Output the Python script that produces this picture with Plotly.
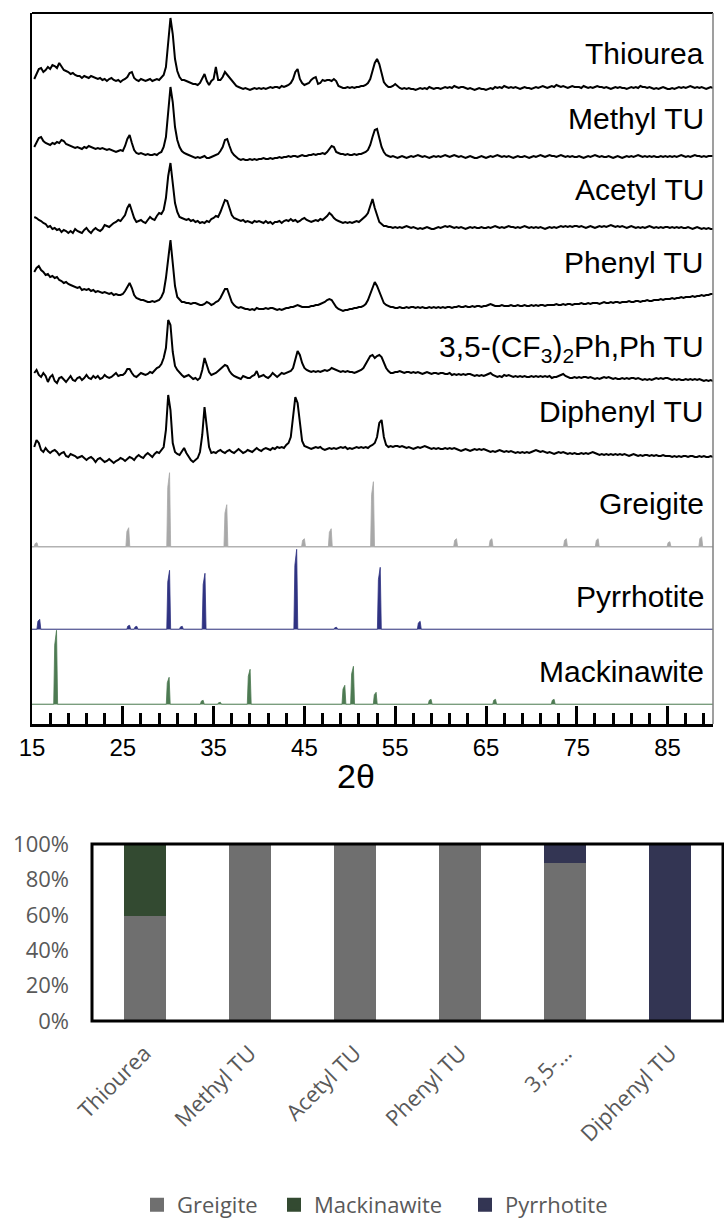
import plotly.graph_objects as go

W, H = 724, 1226

# ---------------- XRD patterns -------------
# 2θ sampling of the measured scans: 15.25° ... 90.00° in 0.25° steps
two_theta = [15.25 + 0.25 * i for i in range(300)]

# intensity above each pattern's own baseline (one row = 5° of 2θ)
thiourea = [
    10, 16, 20, 21, 17, 19, 22, 20, 24, 23, 21, 26, 23, 19, 18, 17, 15, 16, 14, 13,
    13, 11, 13, 12, 11, 13, 12, 11, 10, 11, 9, 10, 8, 10, 11, 9, 8, 9, 7, 9,
    10, 12, 16, 17, 11, 9, 8, 10, 9, 8, 9, 10, 8, 9, 10, 9, 12, 14, 22, 45,
    71, 55, 30, 18, 12, 9, 9, 8, 7, 6, 5, 5, 4, 6, 10, 15, 8, 4, 8, 10,
    22, 9, 9, 12, 17, 14, 11, 8, 6, 3, 2, 1, 0, 1, 0, -1, 0, 1, 0, 1,
    0, 1, 0, 1, 2, 1, 2, 2, 1, 3, 2, 3, 4, 6, 10, 17, 20, 10, 6, 4,
    5, 6, 9, 11, 12, 5, 6, 9, 8, 9, 9, 8, 10, 8, 3, 2, 1, 1, 2, 1,
    2, 1, 2, 2, 3, 3, 4, 6, 10, 18, 26, 30, 25, 16, 7, 4, 2, 2, 3, 5,
    3, 1, 0, 1, 0, 1, 0, 0, -1, 0, 1, 0, 1, 0, 2, 1, 0, 1, 1, 0,
    1, 2, 1, 2, 1, 3, 2, 1, 2, 2, 1, 0, 1, 0, -1, 0, 1, 0, 0, -1,
    0, 1, 0, 2, 1, 2, 1, 3, 2, 1, 2, 1, 2, 1, 0, 1, 2, 1, 1, 0,
    1, 2, 1, 2, 3, 2, 1, 2, 3, 2, 4, 3, 2, 3, 2, 1, 2, 3, 2, 2,
    2, 1, 3, 2, 1, 2, 1, 2, 3, 2, 2, 1, 2, 1, 0, 1, 2, 1, 2, 1,
    1, 0, 1, 2, 1, 2, 1, 3, 2, 2, 1, 2, 1, 0, 1, 0, 1, 2, 1, 0,
    0, 1, 0, 1, 2, 1, 2, 1, 2, 3, 2, 1, 2, 1, 2, 1, 0, 1, 2, 1,
]

methyl_tu = [
    10, 14, 19, 20, 16, 14, 13, 12, 14, 13, 15, 14, 17, 16, 13, 12, 11, 10, 9, 10,
    9, 8, 10, 9, 11, 10, 9, 8, 9, 8, 9, 8, 7, 8, 7, 6, 5, 6, 7, 6,
    11, 18, 22, 14, 7, 4, 3, 4, 3, 2, 3, 2, 2, 3, 2, 4, 5, 10, 20, 47,
    70, 55, 30, 17, 10, 6, 4, 3, 2, 1, 0, -1, 0, -1, 0, 1, -1, -1, 0, 1,
    2, 3, 6, 10, 17, 18, 11, 5, 2, 0, -2, -3, -2, -3, -3, -2, -3, -2, -3, -2,
    -2, -1, -2, -2, -1, -2, -1, -1, 0, -1, 0, 0, 1, 0, 1, 1, 0, 1, 2, 1,
    1, 2, 2, 3, 2, 3, 3, 4, 3, 5, 8, 11, 10, 5, 4, 3, 3, 2, 3, 2,
    2, 3, 2, 3, 3, 4, 5, 7, 12, 20, 27, 28, 19, 10, 5, 2, 1, 0, 1, 0,
    -1, 0, 1, 0, -1, 0, 1, 0, 1, 2, 1, 0, 1, 0, -1, 0, 1, 0, 1, 0,
    1, 2, 1, 0, 1, 2, 1, 0, 1, 0, -1, 0, 1, 0, -1, -1, 0, 1, 0, -1,
    0, 1, 0, 1, 2, 1, 0, 1, 0, 1, 0, -1, 0, 1, 0, 0, 1, 0, -1, 0,
    1, 0, 1, 2, 1, 0, 1, 2, 1, 1, 0, 1, 2, 1, 0, 1, 0, 1, 0, 0,
    1, 0, -1, 0, 1, 0, 1, 2, 1, 0, 1, 0, 0, 1, 0, -1, 0, 1, 0, -1,
    0, 1, 0, 1, 0, 1, 2, 1, 0, 1, 0, 1, 0, 1, 0, 0, 1, 0, 1, 0,
    1, 0, 1, 0, 1, 2, 1, 0, 1, 0, 1, 2, 1, 1, 0, 1, 0, 1, 1, 1,
]

acetyl_tu = [
    11, 10, 8, 7, 5, 4, 1, 2, -1, 0, -2, -1, -4, -2, -3, -5, -3, -5, -1, -3,
    -4, -5, -2, 0, -3, -5, -2, 0, -2, -3, -1, 3, 2, 1, 3, 5, 6, 8, 7, 10,
    13, 20, 24, 17, 10, 6, 7, 8, 6, 5, 8, 11, 9, 8, 12, 15, 14, 18, 30, 52,
    65, 45, 25, 16, 11, 10, 9, 8, 9, 7, 8, 6, 7, 5, 6, 5, 7, 6, 9, 10,
    12, 11, 16, 22, 28, 27, 19, 13, 10, 9, 8, 7, 8, 6, 7, 6, 5, 7, 6, 7,
    6, 5, 7, 5, 6, 4, 6, 6, 7, 5, 7, 8, 7, 9, 7, 8, 6, 7, 9, 10,
    8, 7, 6, 7, 8, 7, 9, 8, 10, 12, 15, 13, 10, 8, 7, 6, 5, 6, 5, 6,
    5, 6, 7, 6, 8, 10, 12, 15, 22, 29, 20, 12, 6, 4, 2, 2, 1, 1, 0, 1,
    0, 1, 0, 1, 2, 1, 0, 1, 0, -1, 0, -1, 0, 1, 0, -1, -1, 0, 1, 0,
    1, 2, 1, 2, 1, 0, 1, 0, 1, 0, -1, 0, 1, 0, 1, 0, 0, 1, 0, 0,
    1, 0, 1, 2, 1, 0, 1, 0, 1, 2, 1, 1, 0, 1, 0, 1, 2, 1, 0, 1,
    0, 1, 0, 1, 0, -1, 0, 1, 0, 1, 0, 1, 2, 1, 2, 1, 2, 1, 2, 2,
    1, 2, 1, 0, 1, 2, 1, 0, 1, 2, 1, 2, 1, 2, 3, 2, 1, 2, 1, 2,
    1, 0, 1, 2, 1, 0, 1, 0, 1, 0, 1, 2, 1, 0, 1, 0, 1, 0, 1, 1,
    0, 1, 0, 1, 0, 1, 0, 0, 1, 0, -1, 0, 1, 0, -1, 0, -1, 0, -1, -1,
]

phenyl_tu = [
    36, 40, 42, 38, 36, 33, 34, 31, 32, 30, 31, 28, 27, 25, 26, 24, 23, 22, 21, 20,
    21, 18, 19, 18, 19, 17, 18, 16, 17, 16, 15, 16, 15, 14, 15, 13, 14, 13, 13, 14,
    17, 21, 25, 20, 13, 10, 9, 8, 8, 7, 6, 6, 7, 6, 7, 8, 11, 16, 30, 52,
    68, 45, 22, 11, 8, 6, 6, 5, 5, 4, 5, 5, 4, 3, 3, 4, 6, 5, 3, 4,
    6, 7, 10, 15, 19, 19, 12, 6, 3, 1, 0, 1, 0, -1, -1, -2, -1, -2, 0, -1,
    -1, -1, 0, -1, 0, 0, -1, -2, -1, -2, -1, 0, 0, 1, 1, 2, 3, 2, 1, 1,
    1, 1, 2, 2, 3, 3, 4, 5, 6, 8, 9, 8, 4, 1, -1, -2, -3, -2, -2, -1,
    -1, 0, 0, 1, 1, 2, 4, 8, 14, 21, 26, 22, 16, 9, 5, 3, 2, 1, 1, 0,
    0, 1, 0, 0, 1, 0, 1, 1, 0, 1, 0, 1, 0, 0, 1, 0, 1, 0, 1, 0,
    1, 0, 1, 1, 0, 1, 1, 2, 1, 1, 2, 1, 1, 2, 1, 2, 2, 1, 2, 2,
    3, 4, 3, 2, 2, 2, 3, 2, 2, 2, 3, 2, 2, 3, 2, 2, 3, 2, 2, 3,
    2, 3, 2, 3, 3, 2, 3, 3, 3, 3, 4, 3, 3, 4, 3, 4, 4, 3, 4, 4,
    4, 5, 4, 4, 5, 4, 5, 5, 5, 4, 5, 6, 5, 5, 6, 5, 6, 6, 5, 6,
    6, 6, 7, 6, 6, 7, 7, 6, 7, 7, 8, 7, 7, 8, 8, 8, 9, 8, 9, 9,
    9, 10, 9, 10, 10, 11, 10, 11, 11, 11, 12, 11, 12, 12, 13, 12, 13, 13, 14, 14,
]

cf3_ph_tu = [
    7, 10, 5, 3, 7, 4, -2, 3, 5, -1, -3, 2, 3, 0, -2, 1, 4, 0, -1, 2,
    3, 0, 2, 5, 2, 1, 4, 2, 4, 1, 2, 5, 3, 2, 3, 5, 7, 4, 5, 5,
    7, 11, 11, 7, 4, 3, 5, 7, 6, 5, 6, 8, 7, 10, 12, 13, 16, 22, 32, 60,
    55, 28, 14, 10, 7, 5, 3, 4, 5, 3, 1, 2, 0, 2, 10, 22, 16, 8, 5, 6,
    7, 9, 11, 13, 15, 14, 9, 6, 4, 3, 2, 1, 4, 3, 2, 2, 4, 5, 9, 3,
    4, 5, 3, 2, 4, 7, 5, 3, 5, 7, 6, 7, 8, 9, 12, 22, 29, 25, 17, 12,
    10, 9, 8, 9, 8, 9, 8, 9, 10, 9, 10, 12, 11, 10, 9, 8, 9, 8, 9, 8,
    8, 7, 8, 9, 10, 12, 16, 20, 24, 25, 22, 24, 25, 23, 17, 12, 9, 7, 7, 8,
    8, 9, 8, 7, 8, 8, 7, 8, 7, 8, 7, 6, 7, 8, 7, 6, 7, 7, 6, 7,
    7, 6, 6, 7, 5, 6, 5, 6, 5, 6, 5, 6, 6, 5, 4, 5, 4, 5, 4, 5,
    6, 7, 5, 4, 3, 4, 3, 5, 4, 5, 4, 3, 4, 3, 4, 3, 4, 3, 3, 4,
    3, 4, 3, 4, 3, 4, 3, 4, 2, 3, 3, 4, 5, 6, 4, 3, 2, 2, 3, 2,
    3, 2, 3, 3, 2, 3, 2, 1, 2, 1, 2, 3, 2, 3, 2, 1, 2, 1, 1, 2,
    1, 2, 1, 2, 2, 1, 2, 1, 0, 1, 0, 1, 0, 1, 2, 1, 2, 1, 2, 2,
    1, 0, 1, 0, 1, 0, 0, 1, 0, 1, 0, 1, 0, 1, 0, -1, 0, -1, 0, -1,
]

diphenyl_tu = [
    8, 15, 12, 5, 3, 7, 4, 2, 4, 5, 3, 0, 2, 3, -1, -2, 1, 0, -1, -3,
    -2, -1, -3, -5, -3, -2, -4, -7, -4, -3, -5, -7, -6, -4, -6, -8, -6, -5, -3, -4,
    -6, -4, -2, -3, -5, -2, 0, -2, -3, 0, 2, 0, -2, 1, 3, 2, 5, 8, 25, 60,
    45, 12, 3, 1, 0, 3, 7, 2, -2, -5, -7, -5, -3, 3, 20, 48, 30, 8, 2, 3,
    2, 4, 5, 3, 2, 4, 5, 3, 2, 4, 6, 4, 2, 3, 5, 4, 3, 5, 7, 5,
    4, 6, 7, 6, 5, 7, 6, 8, 7, 8, 7, 10, 12, 18, 38, 58, 52, 30, 14, 9,
    8, 7, 6, 7, 8, 7, 8, 6, 5, 6, 7, 6, 7, 6, 7, 8, 7, 8, 6, 7,
    6, 7, 8, 7, 8, 7, 8, 7, 9, 10, 12, 18, 32, 35, 18, 10, 8, 9, 8, 9,
    9, 8, 9, 8, 7, 8, 7, 6, 7, 8, 7, 8, 9, 8, 7, 6, 7, 6, 7, 6,
    6, 7, 6, 7, 6, 7, 6, 5, 4, 5, 6, 5, 4, 5, 6, 5, 6, 5, 6, 5,
    4, 3, 4, 3, 4, 5, 4, 3, 4, 3, 4, 3, 2, 3, 2, 3, 2, 3, 2, 3,
    4, 5, 4, 3, 4, 3, 2, 3, 2, 1, 2, 3, 2, 3, 2, 1, 2, 1, 2, 1,
    1, 2, 1, 2, 1, 2, 3, 2, 1, 0, 1, 0, 1, 0, 1, 0, 1, 0, 1, 0,
    1, 0, -1, 0, 1, 0, -1, 0, -1, 0, 0, -1, 0, -1, 0, -1, -1, 0, -1, -1,
    -1, -2, -1, -2, -1, -2, -1, -1, -2, -1, -1, -2, -2, -1, -2, -1, -2, -2, -1, -2,
]

# ---------------- reference patterns: peak positions (2θ) and relative heights -------------
greigite_pos = [15.5, 25.6, 30.1, 36.4, 44.95, 47.9, 52.55, 61.7, 65.6, 73.8, 77.3, 85.2, 88.7]
greigite_ht = [4, 19, 74, 42, 8, 18, 65, 8, 8, 8, 8, 5, 10]

pyrrhotite_pos = [15.8, 25.7, 26.5, 30.1, 31.5, 34.0, 44.1, 48.5, 53.3, 57.7]
pyrrhotite_ht = [10, 4, 3, 59, 3, 56, 80, 2, 62, 8]

mackinawite_pos = [17.65, 30.05, 33.8, 35.7, 38.97, 49.4, 50.35, 52.85, 58.9, 66.0, 72.45]
mackinawite_ht = [74, 27, 4, 2, 35, 19, 38, 12, 5, 5, 5]

# ---------------- phase fractions (%) -------------
samples = ["Thiourea", "Methyl TU", "Acetyl TU", "Phenyl TU", "3,5-…", "Diphenyl TU"]
greigite_pct = [60, 100, 100, 100, 90, 0]
mackinawite_pct = [40, 0, 0, 0, 0, 0]
pyrrhotite_pct = [0, 0, 0, 0, 10, 100]
pct_ticks = [0, 20, 40, 60, 80, 100]

# ---------------- layout constants (pixel space of the stacked panel) -------------
PANEL_TOP, PANEL_BOTTOM = 13, 724          # px
PANEL_LEFT, PANEL_RIGHT = 32, 713          # px
Y_SPAN = PANEL_BOTTOM - PANEL_TOP          # stacked panel y-axis runs 0..Y_SPAN

# (label, intensities, vertical offset, label height)
measured = [
    ("Thiourea", thiourea, 635, 670),
    ("Methyl TU", methyl_tu, 567, 605),
    ("Acetyl TU", acetyl_tu, 496, 534),
    ("Phenyl TU", phenyl_tu, 416, 461),
    ("3,5-(CF<sub>3</sub>)<sub>2</sub>Ph,Ph TU", cf3_ph_tu, 344, 375),
    ("Diphenyl TU", diphenyl_tu, 269, 312),
]

references = [
    ("Greigite", greigite_pos, greigite_ht, 177.3, 220, "#a8a8a8", "#c4c4c4"),
    ("Pyrrhotite", pyrrhotite_pos, pyrrhotite_ht, 94.7, 127, "#2f3282", "#c2c4d4"),
    ("Mackinawite", mackinawite_pos, mackinawite_ht, 19.7, 52, "#4d7a52", "#cbdccb"),
]

LABEL_FONT = dict(family="Liberation Sans, Arial, sans-serif", size=30, color="black")
XL_FONT = dict(family="Open Sans, sans-serif", size=22, color="#595959")

fig = go.Figure()


def stick_profile(pos, hts, base):
    """Narrow filled peak outline along a flat baseline."""
    xs, ys = [15.0], [base]
    for p, h in sorted(zip(pos, hts)):
        xs += [p - 0.26, p - 0.15, p - 0.04, p + 0.05, p + 0.17]
        ys += [base, base + 0.8 * h, base + 0.9 * h, base + h, base]
    xs.append(90.0)
    ys.append(base)
    return xs, ys


for name, vals, off, _ in measured:
    fig.add_trace(go.Scatter(
        x=two_theta, y=[off + v for v in vals], mode="lines",
        line=dict(color="black", width=2), showlegend=False,
        xaxis="x", yaxis="y", hoverinfo="skip"))

for name, pos, hts, base, _, col, basecol in references:
    fig.add_trace(go.Scatter(
        x=[15, 90], y=[base, base], mode="lines",
        line=dict(color=basecol, width=1.5), showlegend=False,
        xaxis="x", yaxis="y", hoverinfo="skip"))
    px_, py_ = stick_profile(pos, hts, base)
    fig.add_trace(go.Scatter(
        x=px_, y=py_, mode="lines", fill="toself", fillcolor=col,
        line=dict(color=col, width=0.8), showlegend=False,
        xaxis="x", yaxis="y", hoverinfo="skip"))

annotations = []
for name, _, _, ly in measured:
    annotations.append(dict(text=name, x=706 / W, xref="paper", xanchor="right",
                            y=ly, yref="y", yanchor="middle", showarrow=False, font=LABEL_FONT))
for name, _, _, _, ly, _, _ in references:
    annotations.append(dict(text=name, x=706 / W, xref="paper", xanchor="right",
                            y=ly, yref="y", yanchor="middle", showarrow=False, font=LABEL_FONT))
annotations.append(dict(text="2θ", x=356 / W, xref="paper", xanchor="center",
                        y=1 - 776 / H, yref="paper", yanchor="middle", showarrow=False,
                        font=dict(family="Liberation Sans, Arial, sans-serif", size=34, color="black")))

# ---------------- stacked bars (one legend box per phase) -------------
bar_series = [
    ("Greigite", greigite_pct, "#6f6f6f", "legend", 137),
    ("Mackinawite", mackinawite_pct, "#334a31", "legend2", 274),
    ("Pyrrhotite", pyrrhotite_pct, "#333553", "legend3", 465),
]
for name, vals, col, lg, _ in bar_series:
    fig.add_trace(go.Bar(x=samples, y=vals, name=name, legend=lg,
                         marker=dict(color=col, line=dict(color=col, width=2)),
                         xaxis="x2", yaxis="y2"))

legend_common = dict(orientation="h", xanchor="left", y=0, yanchor="bottom",
                     font=XL_FONT, itemwidth=30, bgcolor="rgba(0,0,0,0)", borderwidth=0)
legends = {lg: dict(legend_common, x=lx / W) for _, _, _, lg, lx in bar_series}

shapes = [
    dict(type="line", xref="x domain", yref="y domain", x0=0, x1=1, y0=1, y1=1,
         line=dict(color="black", width=2)),
    dict(type="line", xref="x domain", yref="y domain", x0=1, x1=1, y0=0, y1=1,
         line=dict(color="#7f7f7f", width=1.5)),
    dict(type="rect", xref="x2 domain", yref="y2 domain", x0=0, x1=1, y0=0, y1=1,
         line=dict(color="black", width=3)),
]

fig.update_layout(
    width=W, height=H, margin=dict(l=0, r=0, t=0, b=0, autoexpand=False),
    paper_bgcolor="white", plot_bgcolor="white",
    barmode="stack", bargap=0.62,
    showlegend=True,
    **legends,
    xaxis=dict(domain=[PANEL_LEFT / W, PANEL_RIGHT / W], range=[15, 90], anchor="y",
               tick0=15, dtick=10, ticks="inside", ticklen=18, tickwidth=3, tickcolor="black",
               minor=dict(tick0=15, dtick=2, ticks="inside", ticklen=11, tickwidth=3, tickcolor="black"),
               showline=True, linecolor="black", linewidth=3, showgrid=False, zeroline=False,
               automargin=False,
               tickfont=dict(family="Liberation Sans, Arial, sans-serif", size=24, color="black")),
    yaxis=dict(domain=[1 - PANEL_BOTTOM / H, 1 - PANEL_TOP / H], range=[0, Y_SPAN], anchor="x",
               showline=True, linecolor="black", linewidth=2, showticklabels=False, ticks="",
               showgrid=False, zeroline=False, automargin=False),
    xaxis2=dict(domain=[92 / W, 723 / W], anchor="y2", showline=False, ticks="", showgrid=False,
                tickangle=-45, tickfont=XL_FONT, automargin=False, ticklabelstandoff=14),
    yaxis2=dict(domain=[1 - 1021 / H, 1 - 844 / H], anchor="x2", range=[0, 100],
                tickmode="array", tickvals=pct_ticks, ticktext=[f"{v}%" for v in pct_ticks],
                ticks="", showgrid=False, zeroline=False, showline=False, tickfont=XL_FONT,
                ticklabelstandoff=22, automargin=False),
    annotations=annotations, shapes=shapes,
)

fig.write_html("out.html")
